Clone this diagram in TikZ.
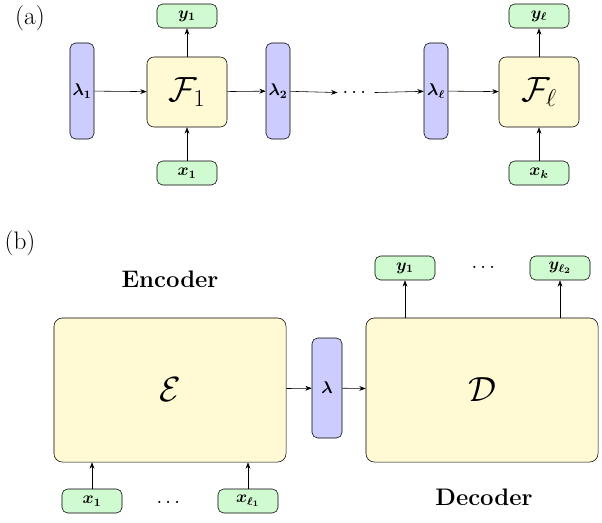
\documentclass[tikz,border=0pt]{standalone}
\usepackage{amsmath,amssymb}
\usepackage{xcolor}
\usetikzlibrary{arrows.meta,positioning}
\definecolor{lamblue}{RGB}{204,204,255}
\definecolor{fyellow}{RGB}{255,250,212}
\definecolor{iogreen}{RGB}{208,250,208}

\begin{document}
\begin{tikzpicture}[
  x=0.025cm, y=-0.025cm,
  lam/.style={draw, fill=lamblue, rounded corners=4pt, minimum width=0.6cm, minimum height=2.4cm, inner sep=1pt, font=\large\boldmath},
  fun/.style={draw, fill=fyellow, rounded corners=5pt, minimum width=2cm, minimum height=1.75cm, font=\fontsize{24}{28}\selectfont},
  big/.style={draw, fill=fyellow, rounded corners=6pt, minimum width=5.8cm, minimum height=3.6cm, font=\fontsize{40}{46}\selectfont},
  io/.style={draw, fill=iogreen, rounded corners=4pt, minimum width=1.5cm, minimum height=0.6cm, inner sep=1pt, font=\large\boldmath},
  lbl/.style={font=\fontsize{18}{20}\selectfont},
  arr/.style={-{Stealth[length=1.6mm]}}
]
\useasboundingbox (0,0) rectangle (602,522);

% (a) chain
\node[lbl] at (30,18) {(a)};
\node[lam] (l1) at (82,91) {$\lambda_1$};
\node[fun] (f1) at (187,92) {$\mathcal{F}_1$};
\node[io] (y1) at (187,16) {$y_1$};
\node[io] (x1) at (187,173) {$x_1$};
\node[lam] (l2) at (278,91) {$\lambda_2$};
\node[font=\Large] (dots) at (356,93) {$\cdots$};
\node[lam] (ll) at (436,91) {$\lambda_\ell$};
\node[fun] (fl) at (539,92) {$\mathcal{F}_\ell$};
\node[io] (yl) at (539,16) {$y_\ell$};
\node[io] (xk) at (539,173) {$x_k$};

\draw[arr] (l1) -- (f1);
\draw[arr] (f1) -- (l2);
\draw[arr] (l2) -- (dots);
\draw[arr] (dots) -- (ll);
\draw[arr] (ll) -- (fl);
\draw[arr] (f1) -- (y1);
\draw[arr] (x1) -- (f1);
\draw[arr] (fl) -- (yl);
\draw[arr] (xk) -- (fl);

% (b) encoder-decoder
\node[lbl] at (20,243) {(b)};
\node[font=\fontsize{17}{20}\selectfont\bfseries] (enc) at (170,279) {Encoder};
\node[big] (E) at (170,390) {$\mathcal{E}$};
\node[lam, minimum height=2.5cm, minimum width=0.75cm] (lb) at (327,388) {$\lambda$};
\node[big] (D) at (482,390) {$\mathcal{D}$};
\node[font=\fontsize{17}{20}\selectfont\bfseries] (dec) at (484,497) {Decoder};
\node[io] (by1) at (405,268) {$y_1$};
\node[font=\Large] (bdy) at (485,268) {$\cdots$};
\node[io] (byl) at (560,268) {$y_{\ell_2}$};
\node[io] (bx1) at (92,501) {$x_1$};
\node[font=\Large] (bdx) at (170,503) {$\cdots$};
\node[io] (bxl) at (248,501) {$x_{\ell_1}$};

\draw[arr] (E) -- (lb);
\draw[arr] (lb) -- (D);
\draw[arr] (bx1) -- (bx1 |- E.south);
\draw[arr] (bxl) -- (bxl |- E.south);
\draw[arr] (by1 |- D.north) -- (by1);
\draw[arr] (byl |- D.north) -- (byl);
\end{tikzpicture}
\end{document}
